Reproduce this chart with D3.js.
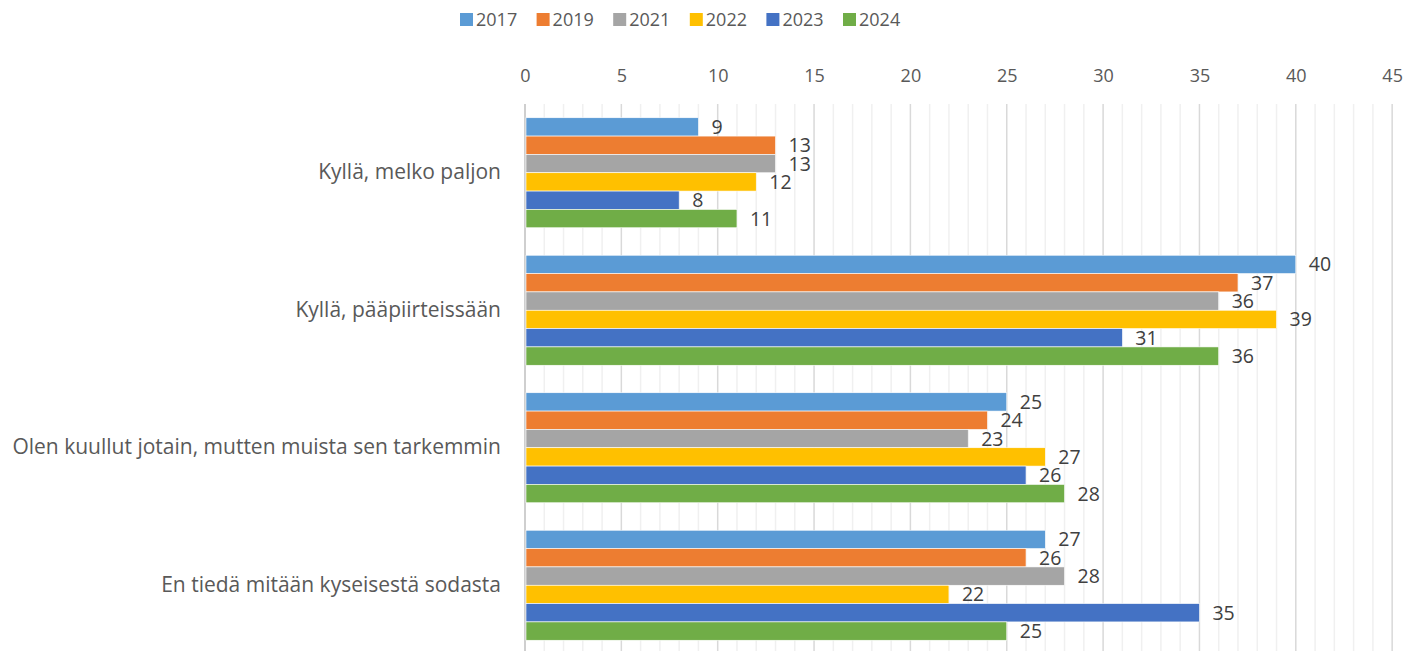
<!DOCTYPE html>
<html>
<head>
<meta charset="utf-8">
<script src="https://cdn.jsdelivr.net/npm/d3@7"></script>
<style>
  body { margin: 0; background: #fff; }
  text { font-family: "Open Sans", "Noto Sans", sans-serif; }
</style>
</head>
<body>
<div id="chart-area"></div>
<script>
var categories = ["Kyllä, melko paljon", "Kyllä, pääpiirteissään",
    "Olen kuullut jotain, mutten muista sen tarkemmin", "En tiedä mitään kyseisestä sodasta"];
var years = ["2017", "2019", "2021", "2022", "2023", "2024"];
var colors = ["#5B9BD5", "#ED7D31", "#A5A5A5", "#FFC000", "#4472C4", "#70AD47"];
var v2017 = [9, 40, 25, 27];
var v2019 = [13, 37, 24, 26];
var v2021 = [13, 36, 23, 28];
var v2022 = [12, 39, 27, 22];
var v2023 = [8, 31, 26, 35];
var v2024 = [11, 36, 28, 25];
var xTicks = [0, 5, 10, 15, 20, 25, 30, 35, 40, 45];

var series = [v2017, v2019, v2021, v2022, v2023, v2024];
var data = [];
categories.forEach(function(c, i) {
    years.forEach(function(y, j) {
        data.push({cat: c, year: y, value: series[j][i]});
    });
});

var W = 1422, H = 651;
var margin = {top: 104, right: 30, bottom: 0, left: 525};

var svg = d3.select("#chart-area")
  .append("svg")
    .attr("width", W)
    .attr("height", H);

var x = d3.scaleLinear()
    .domain([0, 45])
    .range([margin.left, margin.left + 45 * 19.27]);

var y = d3.scaleBand()
    .domain(categories)
    .range([margin.top, margin.top + 550])
    .paddingInner(0.2)
    .paddingOuter(0.1);

var yInner = d3.scaleBand()
    .domain(years)
    .range([0, y.bandwidth()]);

var color = d3.scaleOrdinal().domain(years).range(colors);

// minor gridlines
svg.append("g")
  .selectAll("line")
  .data(d3.range(1, 46).filter(function(d) { return d % 5 != 0; }))
  .enter()
  .append("line")
    .attr("x1", function(d) { return x(d); })
    .attr("x2", function(d) { return x(d); })
    .attr("y1", margin.top)
    .attr("y2", H)
    .attr("stroke", "#f0f0f0")
    .attr("stroke-width", 1.5);

// major gridlines
svg.append("g")
  .selectAll("line")
  .data(xTicks.slice(1))
  .enter()
  .append("line")
    .attr("x1", function(d) { return x(d); })
    .attr("x2", function(d) { return x(d); })
    .attr("y1", margin.top)
    .attr("y2", H)
    .attr("stroke", "#d9d9d9")
    .attr("stroke-width", 1.5);

// axis at 0
svg.append("line")
    .attr("x1", x(0)).attr("x2", x(0))
    .attr("y1", margin.top).attr("y2", H)
    .attr("stroke", "#bfbfbf")
    .attr("stroke-width", 1.5);

// x axis labels (top)
var xAxis = d3.axisTop(x).tickValues(xTicks).tickSize(0).tickPadding(0);
var gx = svg.append("g")
    .attr("transform", "translate(0,82)")
    .call(xAxis);
gx.select(".domain").remove();
gx.selectAll("text")
    .style("font-size", "18px")
    .style("font-family", "'Open Sans', sans-serif")
    .attr("fill", "#595959");

// bars
var groups = svg.append("g")
  .selectAll("g")
  .data(categories)
  .enter()
  .append("g")
    .attr("transform", function(d) { return "translate(0," + y(d) + ")"; });

groups.selectAll("rect")
  .data(function(c) { return data.filter(function(d) { return d.cat == c; }); })
  .enter()
  .append("rect")
    .attr("x", x(0) + 1)
    .attr("y", function(d) { return yInner(d.year); })
    .attr("width", function(d) { return x(d.value) - x(0) - 1; })
    .attr("height", yInner.bandwidth())
    .attr("fill", function(d) { return color(d.year); })
    .attr("stroke", "#ffffff")
    .attr("stroke-width", 0.6);

groups.selectAll("text")
  .data(function(c) { return data.filter(function(d) { return d.cat == c; }); })
  .enter()
  .append("text")
    .attr("x", function(d) { return x(d.value) + 13; })
    .attr("y", function(d) { return yInner(d.year) + yInner.bandwidth() / 2; })
    .attr("dy", "0.36em")
    .style("font-size", "19.5px")
    .attr("fill", "#404040")
    .text(function(d) { return d.value; });

// category labels
var gy = svg.append("g")
    .attr("transform", "translate(" + (x(0) - 24) + ",0)")
    .call(d3.axisLeft(y).tickSize(0).tickPadding(0));
gy.select(".domain").remove();
gy.selectAll("text")
    .style("font-size", "21px")
    .style("font-family", "'Open Sans', sans-serif")
    .attr("fill", "#595959");

// legend
var legend = svg.append("g")
  .selectAll("g")
  .data(years)
  .enter()
  .append("g")
    .attr("transform", function(d, i) { return "translate(" + (460 + i * 76.6) + ",0)"; });

legend.append("rect")
    .attr("x", 0)
    .attr("y", 13)
    .attr("width", 13)
    .attr("height", 13)
    .attr("fill", function(d) { return color(d); });

legend.append("text")
    .attr("x", 16)
    .attr("y", 19.5)
    .attr("dy", "0.36em")
    .style("font-size", "18px")
    .attr("fill", "#595959")
    .text(function(d) { return d; });
</script>
</body>
</html>
